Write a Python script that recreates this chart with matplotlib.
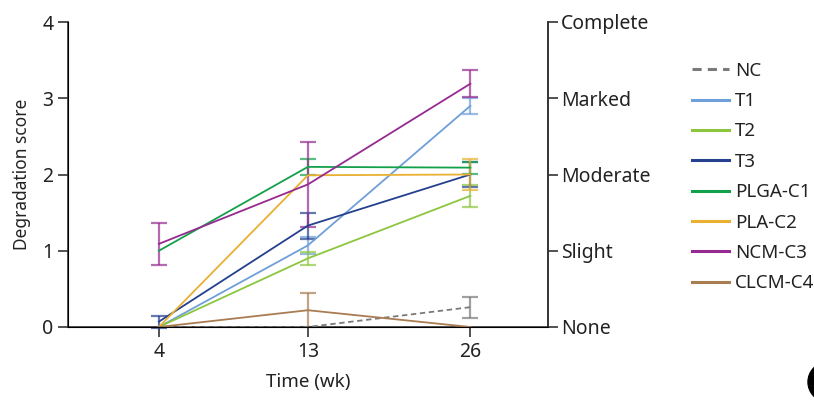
import matplotlib
matplotlib.use("Agg")
import numpy as np
import matplotlib.pyplot as plt
from matplotlib.patches import Circle

plt.rcParams['font.family'] = ['Noto Sans', 'DejaVu Sans']

weeks = ['4', '13', '26']
groups = ['NC', 'T1', 'T2', 'T3', 'PLGA-C1', 'PLA-C2', 'NCM-C3', 'CLCM-C4']
means = {
    'NC':      [0.0, 0.0, 0.26],
    'T1':      [0.0, 1.07, 2.90],
    'T2':      [0.0, 0.90, 1.72],
    'T3':      [0.07, 1.33, 2.00],
    'PLGA-C1': [1.0, 2.10, 2.09],
    'PLA-C2':  [0.0, 1.99, 2.00],
    'NCM-C3':  [1.09, 1.87, 3.19],
    'CLCM-C4': [0.0, 0.22, 0.0],
}
errs = {
    'NC':      [0.0, 0.0, 0.14],
    'T1':      [0.0, 0.11, 0.10],
    'T2':      [0.0, 0.09, 0.14],
    'T3':      [0.08, 0.17, 0.17],
    'PLGA-C1': [0.0, 0.10, 0.08],
    'PLA-C2':  [0.0, 0.0, 0.20],
    'NCM-C3':  [0.28, 0.56, 0.18],
    'CLCM-C4': [0.0, 0.22, 0.0],
}
colors = {
    'NC': '#7a7a7a', 'T1': '#6f9fd8', 'T2': '#8cc63f', 'T3': '#24408e',
    'PLGA-C1': '#13a04b', 'PLA-C2': '#e9b031', 'NCM-C3': '#962a91',
    'CLCM-C4': '#a97c52',
}
grade_labels = ['None', 'Slight', 'Moderate', 'Marked', 'Complete']

fig = plt.figure(figsize=(8.14, 4.0), dpi=100)
ax = fig.add_axes([0.0835, 0.1825, 0.5895, 0.7625])

x = np.array([0, 1, 2.09])
for g in groups:
    c = colors[g]
    ls = (0, (3, 2)) if g == 'NC' else '-'
    ax.plot(x, means[g], color=c, lw=1.3, ls=ls, label=g, zorder=3, clip_on=False)
    m = np.array(means[g])
    e = np.array(errs[g])
    keep = e > 0
    ax.errorbar(x[keep], m[keep], yerr=e[keep], fmt='none', ecolor=c, alpha=0.7,
                elinewidth=1.6, capsize=6, capthick=1.6, zorder=2, clip_on=False)

ax.set_xlim(-0.61, 2.61)
ax.set_ylim(0, 4)
ax.set_xticks(x)
ax.set_xticklabels(weeks)
ax.set_yticks([0, 1, 2, 3, 4])
ax.spines['top'].set_visible(False)
for s in ['left', 'bottom', 'right']:
    ax.spines[s].set_color('#333333')
    ax.spines[s].set_linewidth(1.2)
ax.tick_params(axis='both', length=7, width=1.2, color='#333333', labelsize=14, labelcolor='#222222')
ax.set_xlabel('Time (wk)', fontsize=13.5, labelpad=8, color='#222222')
ax.set_ylabel('Degradation score', fontsize=12.5, labelpad=8, color='#222222')

ax2 = ax.twinx()
ax2.set_ylim(0, 4)
ax2.set_yticks([0, 1, 2, 3, 4])
ax2.set_yticklabels(grade_labels)
ax2.spines['top'].set_visible(False)
ax2.spines['right'].set_color('#333333')
ax2.spines['right'].set_linewidth(1.2)
ax2.tick_params(axis='y', length=7, width=1.2, pad=2.5, color='#333333', labelsize=14, labelcolor='#222222')

leg = ax.legend(loc='upper left', bbox_to_anchor=(1.265, 0.925), frameon=False,
                fontsize=13.5, handlelength=2.0, handletextpad=0.32, labelspacing=0.66)
for line in leg.get_lines():
    line.set_linewidth(2.2)
for t in leg.get_texts():
    t.set_color('#222222')

fig.patches.append(Circle((828, 18), 20, transform=None, color='black'))

fig.savefig('out.png', dpi=100)
